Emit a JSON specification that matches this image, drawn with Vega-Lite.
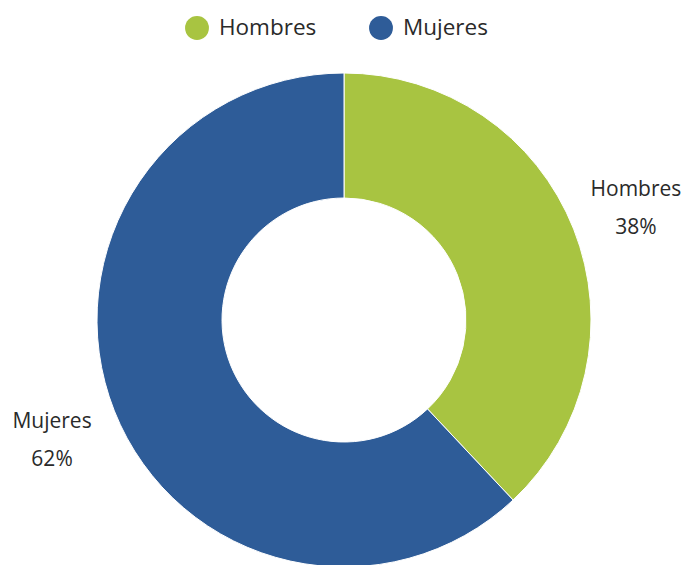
{
  "$schema": "https://vega.github.io/schema/vega-lite/v6.json",
  "width": 688,
  "height": 640,
  "padding": 0,
  "autosize": "none",
  "background": "white",
  "config": {"view": {"stroke": null}, "font": "Open Sans"},
  "data": {"values": [
    {"sexo": "Hombres", "pct": 0.38},
    {"sexo": "Mujeres", "pct": 0.62}
  ]},
  "encoding": {
    "theta": {"field": "pct", "type": "quantitative", "stack": true},
    "color": {
      "field": "sexo", "type": "nominal",
      "scale": {"domain": ["Hombres", "Mujeres"], "range": ["#a8c441", "#2e5c98"]},
      "legend": {
        "title": null, "orient": "none", "direction": "horizontal",
        "legendX": 185, "legendY": 16,
        "symbolType": "circle", "symbolSize": 570, "symbolStrokeWidth": 0,
        "labelFontSize": 22.5, "labelColor": "#2a2a2a", "labelFont": "Open Sans",
        "columnPadding": 52, "labelOffset": 10
      }
    }
  },
  "layer": [
    {"mark": {"type": "arc", "innerRadius": 122, "outerRadius": 247, "stroke": "white", "strokeWidth": 1}},
    {"mark": {"type": "text", "radius": 314, "dy": -14, "fontSize": 21, "font": "Open Sans"},
     "encoding": {"text": {"field": "sexo"}, "color": {"value": "#2a2a2a"}}},
    {"mark": {"type": "text", "radius": 314, "dy": 24, "fontSize": 21, "font": "Open Sans"},
     "encoding": {"text": {"field": "pct", "type": "quantitative", "format": ".0%"}, "color": {"value": "#2a2a2a"}}}
  ]
}
